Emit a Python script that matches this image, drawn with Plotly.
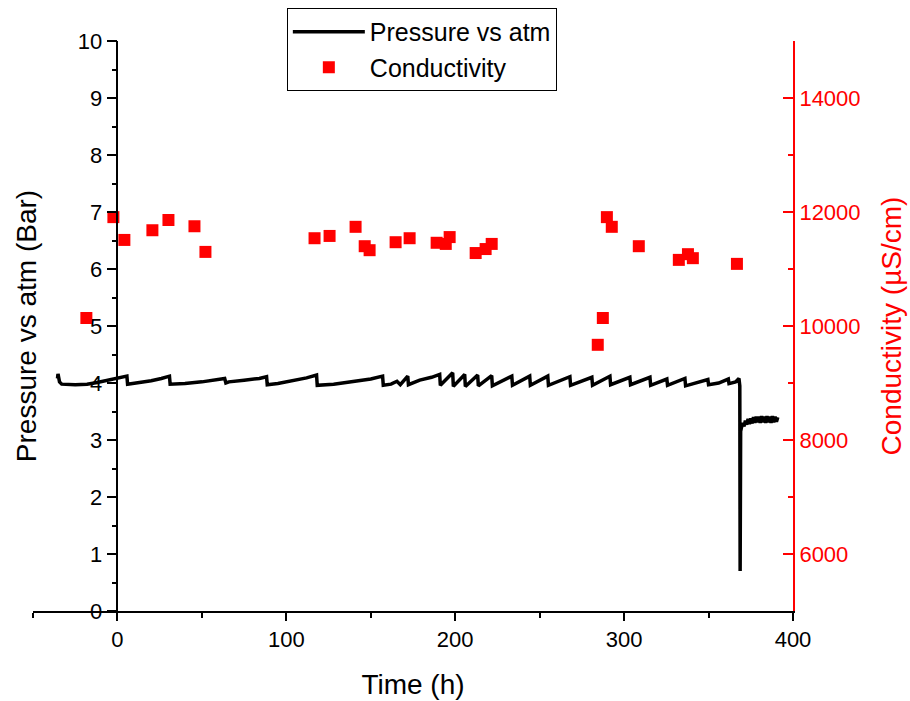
import plotly.graph_objects as go

# ---- Conductivity data (right axis) ----
cond_time = [-18.4, -2.4, 4.1, 20.7, 30.2, 45.6, 52.1, 116.7, 125.6, 141.0, 146.4, 149.3,
             164.7, 173.0, 189.0, 194.4, 196.7, 212.1, 218.0, 221.6, 284.4, 287.4, 289.8,
             292.7, 308.7, 332.4, 337.8, 340.7, 366.8]
cond_value = [10140, 11910, 11510, 11680, 11860, 11750, 11300, 11540, 11580, 11740, 11400,
              11330, 11470, 11540, 11460, 11440, 11560, 11280, 11350, 11440, 9670, 10140,
              11910, 11740, 11400, 11160, 11260, 11190, 11090]

# ---- Pressure data (left axis), vertices ----
pres_time = [-35.5, -35.2, -34.3, -33.0, -25.0, -18.0, -12.0, -6.0, 0.0, 3.0, 5.6, 6.0,
             12.0, 20.0, 26.0, 30.8, 31.2,
             40.0, 50.0, 58.0, 63.5, 64.2, 66.0, 75.0, 84.0, 88.3, 88.7,
             95.0, 105.0, 112.0, 117.9, 118.3,
             128.0, 140.0, 150.0, 157.0, 157.4, 162.0, 165.5, 167.5, 171.9, 172.3,
             179.0, 186.0, 190.8, 191.2, 198.5, 198.9, 205.6, 206.0, 213.3, 213.7,
             221.6, 222.0, 233.5, 233.9, 244.1, 244.5, 254.8, 255.2, 267.9, 268.3,
             280.9, 281.3, 291.6, 292.0, 303.4, 303.8, 315.3, 315.7, 325.3, 325.7,
             336.0, 336.4, 349.6, 350.0, 356.0, 361.7, 362.1, 366.0, 368.0, 368.5,
             368.7, 369.0, 369.5, 370.2, 371.0, 371.8, 372.6, 373.4, 374.2, 375.0,
             375.8, 376.6, 377.4, 378.2, 379.0, 379.8, 380.6, 381.4, 382.2, 383.0,
             383.8, 384.6, 385.4, 386.2, 387.0, 387.8, 388.6, 389.4, 390.2, 391.0]
pres_value = [4.08, 4.16, 4.02, 3.98, 3.97, 3.98, 4.01, 4.05, 4.08, 4.10, 4.12, 3.98,
              4.00, 4.04, 4.08, 4.12, 3.98,
              3.99, 4.02, 4.05, 4.08, 4.00, 4.02, 4.05, 4.08, 4.11, 3.97,
              3.99, 4.04, 4.09, 4.14, 3.96,
              3.98, 4.03, 4.07, 4.12, 3.96, 3.98, 4.03, 3.97, 4.12, 3.97,
              4.05, 4.10, 4.15, 3.96, 4.18, 3.94, 4.15, 3.94, 4.14, 3.95,
              4.13, 3.95, 4.12, 3.96, 4.12, 3.96, 4.12, 3.96, 4.11, 3.96,
              4.10, 3.96, 4.12, 3.97, 4.10, 3.97, 4.10, 3.96, 4.07, 3.96,
              4.08, 3.95, 4.06, 3.97, 4.00, 4.07, 3.99, 4.02, 4.08, 3.95,
              0.70, 3.15, 3.22, 3.30, 3.24, 3.34, 3.27, 3.37, 3.28, 3.38,
              3.29, 3.40, 3.30, 3.41, 3.31, 3.41, 3.30, 3.42, 3.31, 3.41,
              3.30, 3.42, 3.31, 3.41, 3.30, 3.42, 3.31, 3.41, 3.32, 3.40]

FONT = "Arial, Liberation Sans, sans-serif"
RED = "#FF0000"

fig = go.Figure()
fig.add_trace(go.Scatter(
    x=pres_time, y=pres_value, mode="lines", name="Pressure vs atm",
    line=dict(color="black", width=3.5), yaxis="y"))
fig.add_trace(go.Scatter(
    x=cond_time, y=cond_value, mode="markers", name="Conductivity",
    marker=dict(symbol="square", size=12, color=RED, line=dict(width=0)), yaxis="y2"))

fig.update_layout(
    width=910, height=701,
    margin=dict(l=33, r=117, t=41, b=90, autoexpand=False),
    paper_bgcolor="white", plot_bgcolor="white",
    font=dict(family=FONT, color="black"),
    showlegend=True,
    legend=dict(x=0.334, y=1.058, xanchor="left", yanchor="top",
                bordercolor="black", borderwidth=1, bgcolor="white",
                font=dict(size=25, family=FONT), itemwidth=72, tracegroupgap=0),
    xaxis=dict(range=[-50, 400], tick0=0, dtick=100, showgrid=False, zeroline=False,
               showline=True, linecolor="black", linewidth=1.5,
               ticks="outside", ticklen=8, tickwidth=1.5, tickcolor="black",
               minor=dict(dtick=50, ticks="outside", ticklen=5, tickwidth=1.5, tickcolor="black"),
               tickfont=dict(size=22, family=FONT),
               title=dict(text="Time (h)", font=dict(size=28, family=FONT), standoff=23)),
    yaxis=dict(range=[0, 10], tick0=0, dtick=1, anchor="free", position=50/450,
               showgrid=False, zeroline=False,
               showline=True, linecolor="black", linewidth=1.5,
               ticks="outside", ticklen=10, tickwidth=1.5, tickcolor="black",
               minor=dict(dtick=0.5, ticks="outside", ticklen=5, tickwidth=1.5, tickcolor="black"),
               tickfont=dict(size=22, family=FONT),
               title=dict(text="Pressure vs atm (Bar)", font=dict(size=28, family=FONT), standoff=32)),
    yaxis2=dict(range=[5000, 15000], tick0=0, dtick=2000, tickformat="d",
                overlaying="y", side="right",
                anchor="x", showgrid=False, zeroline=False,
                showline=True, linecolor=RED, linewidth=2,
                ticks="inside", ticklen=10, tickwidth=1.5, tickcolor=RED,
                minor=dict(dtick=1000, ticks="inside", ticklen=5, tickwidth=1.5, tickcolor=RED),
                tickfont=dict(size=22, family=FONT, color=RED),
                title=dict(text="Conductivity (µS/cm)", font=dict(size=28, family=FONT, color=RED),
                           standoff=22)),
)

fig.write_html("out.html")
